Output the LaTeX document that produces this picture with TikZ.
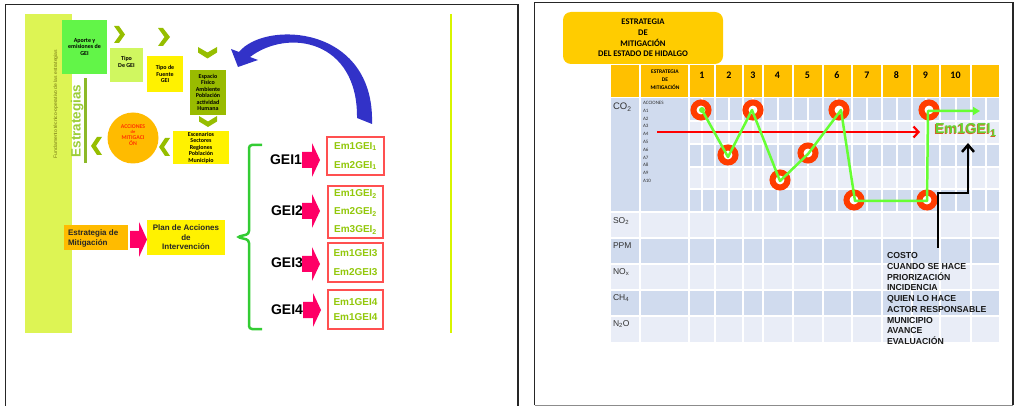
\documentclass[tikz,border=0pt]{standalone}
\usepackage{fontspec}
\setmainfont{Liberation Sans}
\newfontfamily\carl{Carlito}
\usetikzlibrary{arrows.meta}
\newcommand\fsz[2]{\fontsize{#1}{#2}\selectfont}
\definecolor{limec}{RGB}{221,244,84}
\definecolor{olivet}{RGB}{120,120,20}
\definecolor{estc}{RGB}{155,205,55}
\definecolor{barc}{RGB}{140,185,40}
\definecolor{aporc}{RGB}{98,245,72}
\definecolor{tipoc}{RGB}{208,247,96}
\definecolor{espc}{RGB}{153,187,0}
\definecolor{chevc}{RGB}{150,190,0}
\definecolor{circc}{RGB}{255,187,0}
\definecolor{accred}{RGB}{255,51,0}
\definecolor{orc}{RGB}{255,187,0}
\definecolor{pinkc}{RGB}{255,0,102}
\definecolor{bracec}{RGB}{51,204,51}
\definecolor{emgreen}{RGB}{146,200,10}
\definecolor{gbred}{RGB}{255,80,80}
\definecolor{bluec}{RGB}{50,50,200}
\definecolor{yelc}{RGB}{215,245,0}
\definecolor{titc}{RGB}{255,204,0}
\definecolor{hdrc}{RGB}{255,192,0}
\definecolor{darkc}{RGB}{208,219,238}
\definecolor{lightc}{RGB}{233,237,247}
\definecolor{ringc}{RGB}{255,60,0}
\definecolor{greenl}{RGB}{102,255,51}
\definecolor{emfront}{RGB}{102,210,51}
\definecolor{emshadow}{RGB}{210,100,40}
\begin{document}
\begin{tikzpicture}[x=1pt,y=-1pt,
  every node/.style={inner sep=0pt, outer sep=0pt},
  lbl/.style={align=center, font=\carl\bfseries\fsz{6}{6.5}},
  geibox/.style={draw=gbred, line width=1.1pt, fill=white, align=center, font=\bfseries\fsz{10}{19}, text=emgreen},
  geitxt/.style={font=\bfseries\fsz{14}{16}},
  wl/.style={draw=white, line width=1.2pt},
  ring/.style={circle, draw=ringc, line width=6pt, fill=white, minimum size=15pt},
  num/.style={font=\carl\bfseries\fsz{10}{12}},
  gas/.style={anchor=west, font=\fsz{8.5}{10}, text=black!80},
  pinkarrow/.pic={\fill[pinkc] (0,-8) -- (10,-8) -- (10,-17) -- (18,0) -- (10,17) -- (10,8) -- (0,8) -- cycle;}
]
\useasboundingbox (0,0) rectangle (1018,406);
% frames
\draw[line width=1.5pt, black!85] (5.5,410) -- (5.5,4.5) -- (518,4.5) -- (518,410);
\draw[line width=1.5pt, black!85] (534.5,405) -- (534.5,2.5) -- (1013,2.5) -- (1013,405);
\draw[line width=1pt, black!45] (534.5,405) -- (1013,405);

% ---------------- left panel ----------------
\fill[limec] (25,14) rectangle (72,333);
\node[rotate=90, anchor=base, font=\fsz{5}{6}, text=olivet] (fund) at (57,104) {Fundamento técnico-operativo de las estrategias};
\node[rotate=90, anchor=base, font=\bfseries\fsz{13.5}{16}, text=estc] (estr) at (80.5,121) {Estrategias};
\fill[barc] (84,78) rectangle (87,163);

\node[fill=aporc, minimum width=45, minimum height=54, lbl] (aporte) at (84.5,47) {Aporte y\\emisiones de\\GEI};
\node[fill=tipoc, minimum width=33, minimum height=34] (tipo) at (126.5,65) {};
\node[lbl] (tipo-t) at (126.5,62) {Tipo\\De GEI};
\node[fill=yellow, minimum width=36, minimum height=36, lbl] (fuente) at (165,74) {Tipo de\\Fuente\\GEI};
\node[fill=espc, minimum width=36, minimum height=45, lbl] (esp) at (208,92.5) {Espacio\\Físico\\Ambiente\\Población\\actividad\\Humana};
\node[fill=yellow, minimum width=56, minimum height=33, lbl] (esc) at (201,147.5) {Escenarios\\Sectores\\Regiones\\Población\\Municipio};
\node[circle, fill=circc, minimum size=51] (acc) at (133,138) {};
\node[align=center, font=\carl\bfseries\fsz{5.8}{5.8}, text=accred] (acc-t) at (133,135) {ACCIONES\\{\fsz{4.5}{5.8}de}\\MITIGACI\\ÓN};

% chevrons
\fill[chevc] (114,26) -- (119,26) -- (125,34.5) -- (119,43) -- (114,43) -- (120,34.5) -- cycle;
\fill[chevc] (158,28) -- (163,28) -- (170,37) -- (163,46) -- (158,46) -- (164.5,37) -- cycle;
\fill[chevc] (198,47) -- (207.5,52.5) -- (217,47) -- (217,52.5) -- (207.5,58.5) -- (198,52.5) -- cycle;
\fill[chevc] (199,116) -- (208,121.5) -- (217,116) -- (217,121.5) -- (208,127) -- (199,121.5) -- cycle;
\fill[chevc] (170,138) -- (165,138) -- (159,147) -- (165,156) -- (170,156) -- (164,147) -- cycle;
\fill[chevc] (102,137) -- (97,137) -- (91,146) -- (97,155) -- (102,155) -- (96,146) -- cycle;

% blue curved arrow
\fill[bluec] (239,52) .. controls (265,20) and (375,25) .. (372,124) -- (357,118)
  .. controls (358,40) and (288,28) .. (250,57) -- (258,60) -- (238,67) -- (231,49) -- cycle;

% strategy -> plan
\node[fill=orc, minimum width=64, minimum height=25] (estrat) at (96,237.5) {};
\node[anchor=west, align=left, font=\bfseries\fsz{8}{10}, text=black!85] (estrat-t) at (68,238) {Estrategia de\\Mitigación};
\fill[pinkc] (130,231) -- (139,231) -- (139,222) -- (147,239.5) -- (139,257) -- (139,248) -- (130,248) -- cycle;
\node[fill=yellow, minimum width=78, minimum height=35, align=center, font=\bfseries\fsz{8}{9.5}, text=black!85] (plan) at (186,237.5) {Plan de Acciones\\de\\Intervención};

% brace
\draw[bracec, line width=2.5pt, rounded corners=3pt] (262,145) -- (249,145) -- (249,234) -- (237,237) -- (249,240) -- (249,329) -- (262,329);

% GEI groups
\node[geitxt] (gei1) at (286,160) {GEI1};
\pic at (302,160) {pinkarrow};
\node[geibox, minimum width=57, minimum height=38] (b1) at (355.5,156) {Em1GEI\textsubscript{1}\\Em2GEI\textsubscript{1}};

\node[geitxt] (gei2) at (287,211) {GEI2};
\pic at (302,211) {pinkarrow};
\node[geibox, font=\bfseries\fsz{10}{18}, minimum width=55, minimum height=52] (b2) at (355.5,212) {Em1GEI\textsubscript{2}\\Em2GEI\textsubscript{2}\\Em3GEI\textsubscript{2}};

\node[geitxt] (gei3) at (287,263) {GEI3};
\pic at (302,264) {pinkarrow};
\node[geibox, minimum width=55, minimum height=39] (b3) at (355.5,262.5) {Em1GEI3\\Em2GEI3};

\node[geitxt] (gei4) at (287,310) {GEI4};
\pic at (303,310) {pinkarrow};
\node[geibox, font=\bfseries\fsz{10}{15.5}, minimum width=55, minimum height=39] (b4) at (355.5,309.5) {Em1GEI4\\Em1GEI4};

\draw[yelc, line width=1.2pt] (451,14) -- (451,333);

% ---------------- right panel ----------------
\node[fill=titc, rounded corners=8pt, minimum width=160, minimum height=52, align=center, font=\carl\bfseries\fsz{8.6}{10.7}] (title) at (643,38) {ESTRATEGIA\\DE\\MITIGACIÓN\\DEL ESTADO DE HIDALGO};

\fill[hdrc] (611,65) rectangle (999,97.5);
\fill[darkc] (611,97.5) rectangle (689,212);
\fill[darkc] (689,97.5) rectangle (999,121);
\fill[lightc] (689,121) rectangle (999,144);
\fill[darkc] (689,144) rectangle (999,167);
\fill[lightc] (689,167) rectangle (999,189);
\fill[darkc] (689,189) rectangle (999,212);
\fill[lightc] (611,212) rectangle (999,238);
\fill[darkc] (611,238) rectangle (999,264);
\fill[lightc] (611,264) rectangle (999,290);
\fill[darkc] (611,290) rectangle (999,316);
\fill[lightc] (611,316) rectangle (999,342);
\foreach \x in {640,689,715,743,763,793,823,852,882,912,940,971} \draw[wl] (\x,65) -- (\x,342);
\foreach \x in {702,729,753,778,808,837,867,897,926,956,986} \draw[wl] (\x,97.5) -- (\x,212);
\foreach \y in {121,144,167,189} \draw[wl] (689,\y) -- (999,\y);
\foreach \y in {97.5,212,238,264,290,316} \draw[wl] (611,\y) -- (999,\y);

\node[align=center, font=\carl\bfseries\fsz{5.5}{8}] (hstrat) at (665,80) {ESTRATEGIA\\DE\\MITIGACIÓN};
\foreach \n/\x in {1/702,2/729,3/753,4/777.5,5/807.5,6/837,7/867,8/896.5,9/925.5,10/955.5}
  \node[num] (n\n) at (\x,75) {\n};

\node[gas, font=\fsz{9.5}{11}] (co2) at (613,107) {CO\textsubscript{2}};
\node[gas] (so2) at (613,221) {SO\textsubscript{2}};
\node[gas] (ppm) at (613,246) {PPM};
\node[gas] (nox) at (613,272) {NO\textsubscript{x}};
\node[gas] (ch4) at (613,298) {CH\textsubscript{4}};
\node[gas] (n2o) at (613,324) {N\textsubscript{2}O};

\node[anchor=north west, align=left, font=\carl\fsz{5}{7.77}, text=black!80] (acciones) at (643,101.4) {ACCIONES\\A1\\A2\\A3\\A4\\A5\\A6\\A7\\A8\\A9\\A10};

% rings
\node[ring] (r1) at (701,110) {};
\node[ring] (r2) at (728,155) {};
\node[ring] (r3) at (753,110) {};
\node[ring] (r4) at (780,180) {};
\node[ring] (r5) at (808,153) {};
\node[ring] (r6) at (839,110) {};
\node[ring] (r7) at (854,200) {};
\node[ring] (r8) at (929,110) {};
\node[ring] (r9) at (927,200) {};

% red arrow
\coordinate (ra1) at (657,132);
\coordinate (ra2) at (920,132);
\draw[red, line width=2.2pt, -{Straight Barb[length=5pt,width=11pt]}] (ra1) -- (ra2);

% green path
\node[circle, fill=greenl, minimum size=6] (gdot) at (702,110) {};
\coordinate (g1) at (702,110);
\coordinate (g2) at (728,157);
\coordinate (g3) at (752,110);
\coordinate (g4) at (780,181);
\coordinate (g5) at (808,154);
\coordinate (g6) at (841,110);
\coordinate (g7) at (855,201);
\coordinate (g8) at (927,201);
\coordinate (g9) at (928,111);
\coordinate (g10) at (980,111);
\draw[greenl, line width=2.5pt, line join=round, -{Triangle[length=7pt,width=8pt]}] (g1) -- (g2) -- (g3) -- (g4) -- (g5) -- (g6) -- (g7) -- (g8) -- (g9) -- (g10);

% label Em1GEI1
\node[anchor=west, font=\bfseries\fsz{14.5}{16}, text=emshadow] (emsh) at (934.2,131) {Em1GEI\textsubscript{1}};
\node[anchor=west, font=\bfseries\fsz{14.5}{16}, text=emfront] (emlab) at (935,130) {Em1GEI\textsubscript{1}};

% info text + black arrow
\node[anchor=north west, align=left, font=\bfseries\fsz{8.7}{10.7}, text=black!90] (info) at (887,252.8) {COSTO\\CUANDO SE HACE\\PRIORIZACIÓN\\INCIDENCIA\\QUIEN LO HACE\\ACTOR RESPONSABLE\\MUNICIPIO\\AVANCE\\EVALUACIÓN};
\coordinate (k1) at (938,248);
\coordinate (k2) at (938,193);
\coordinate (k3) at (968,193);
\coordinate (k4) at (968,143);
\draw[black, line width=2.5pt, -{Straight Barb[length=7pt,width=12pt]}] (k1) -- (k2) -- (k3) -- (k4);
\end{tikzpicture}
\end{document}
